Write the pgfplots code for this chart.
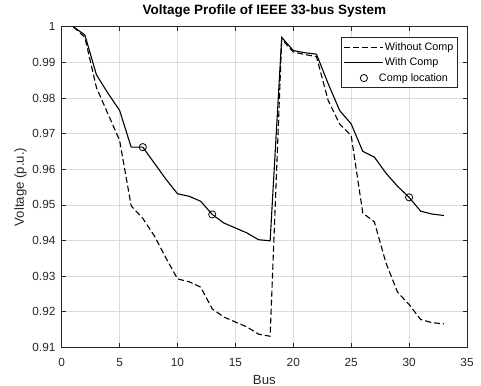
\documentclass[border=0pt]{standalone}
\usepackage{pgfplots}
\pgfplotsset{compat=1.18}
\usepackage{fontspec}
\setmainfont{Liberation Sans}
\definecolor{axgray}{HTML}{262626}
\definecolor{gridgray}{HTML}{DCDCDC}
\pgfplotsset{
  mylineleg/.style={legend image code/.code={\draw[##1] (0bp,0bp) -- (39bp,0bp);}},
  mymarkleg/.style={legend image code/.code={\path[draw=none, fill=none] (0bp,0bp) -- (39bp,0bp); \draw[##1] plot coordinates {(19.5bp,0bp)};}},
}
\begin{document}
\begin{tikzpicture}
\begin{axis}[
  at={(0,0)}, anchor=south west,
  scale only axis,
  width=405.3bp, height=320.6bp,
  xmin=0, xmax=35, ymin=0.91, ymax=1,
  xtick={0,5,...,35},
  ytick={0.91,0.92,0.93,0.94,0.95,0.96,0.97,0.98,0.99,1},
  yticklabels={0.91,0.92,0.93,0.94,0.95,0.96,0.97,0.98,0.99,1},
  grid=major,
  major grid style={gridgray, line width=0.5bp},
  tick align=inside,
  major tick length=4bp,
  axis line style={axgray, line width=0.8bp},
  every tick/.style={axgray, line width=0.6bp},
  tick label style={font=\fontsize{11.8bp}{14bp}\selectfont, text=axgray},
  yticklabel style={xshift=-2.8bp},
  xticklabel style={anchor=base, yshift=-19.2bp},
  /pgf/number format/assume math mode=true,
  scaled y ticks=false,
  title={\bfseries Voltage Profile of IEEE 33-bus System},
  title style={font=\fontsize{13.5bp}{16bp}\selectfont, at={(axis description cs:0.5,1.0209)}, anchor=base},
  xlabel={Bus},
  ylabel={Voltage (p.u.)},
  xlabel style={font=\fontsize{13.2bp}{16bp}\selectfont, text=axgray, at={(axis description cs:0.5,-0.1145)}, anchor=base},
  ylabel style={font=\fontsize{13.2bp}{16bp}\selectfont, text=axgray, at={(axis description cs:-0.102,0.5)}, anchor=center},
  legend style={at={(axis description cs:0.977,0.967)}, anchor=north east,
    font=\fontsize{10.8bp}{13bp}\selectfont, draw=axgray, line width=0.6bp,
    nodes={inner sep=1bp, text height=8.5bp, text depth=2.5bp},
    row sep=2.5bp, inner sep=3bp},
  legend cell align=left,
]
\addplot[black, line width=1.1bp, dash pattern=on 6bp off 3bp, mylineleg] coordinates {
(1,1.0) (2,0.9970) (3,0.9829) (4,0.9755) (5,0.9681) (6,0.9497) (7,0.9462) (8,0.9413)
(9,0.9351) (10,0.9292) (11,0.9284) (12,0.9269) (13,0.9208) (14,0.9185) (15,0.9171)
(16,0.9157) (17,0.9137) (18,0.9131) (19,0.9965) (20,0.9929) (21,0.9922) (22,0.9916)
(23,0.9794) (24,0.9727) (25,0.9694) (26,0.9477) (27,0.9452) (28,0.9337) (29,0.9255)
(30,0.9220) (31,0.9178) (32,0.9169) (33,0.9166)};
\addlegendentry{Without Comp}
\addplot[black, line width=1.1bp, mylineleg] coordinates {
(1,1.0) (2,0.9977) (3,0.9865) (4,0.9813) (5,0.9765) (6,0.9662) (7,0.9662) (8,0.9617)
(9,0.9572) (10,0.9531) (11,0.9524) (12,0.9510) (13,0.9473) (14,0.9449) (15,0.9435)
(16,0.9421) (17,0.9402) (18,0.9399) (19,0.9970) (20,0.9933) (21,0.9927) (22,0.9923)
(23,0.9841) (24,0.9765) (25,0.9727) (26,0.9650) (27,0.9634) (28,0.9589) (29,0.9552)
(30,0.9521) (31,0.9482) (32,0.9474) (33,0.9470)};
\addlegendentry{With Comp}
\addplot[only marks, mark=o, mark size=3.6bp, black, line width=0.8bp, mymarkleg] coordinates {
(7,0.9662) (13,0.9473) (30,0.9521)};
\addlegendentry{\hspace{-6bp}Comp location}
\end{axis}
\pgfresetboundingbox
\useasboundingbox (-61.7bp,-38.7bp) rectangle (419.3bp,347.3bp);
\end{tikzpicture}
\end{document}
